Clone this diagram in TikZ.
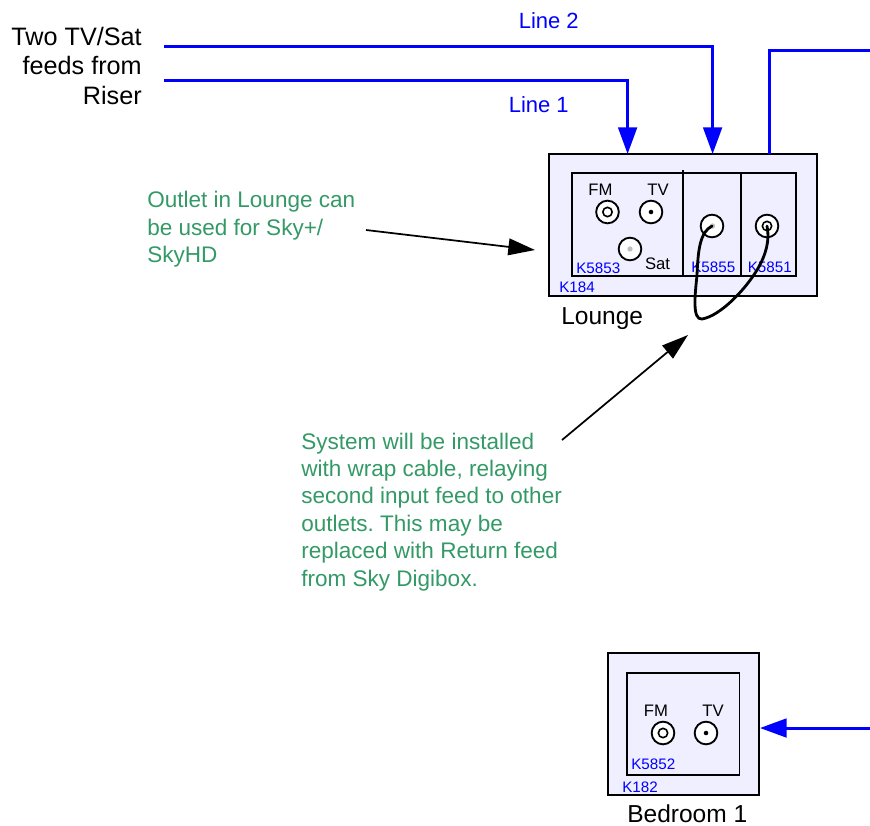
\documentclass[tikz,border=0pt]{standalone}
\usepackage{fontspec}
\setmainfont{Liberation Sans}
\usetikzlibrary{arrows.meta}
\definecolor{boxfill}{HTML}{EFEFFF}
\definecolor{notegreen}{HTML}{339966}
\definecolor{lineblue}{HTML}{0000FF}
\newcommand{\fsz}[1]{\fontsize{#1}{#1}\selectfont}
\tikzset{
  x=0.75pt,y=-0.75pt,
  plate/.style={draw=black,line width=1.3pt,fill=boxfill,inner sep=0pt,outer sep=0pt},
  insert/.style={draw=black,line width=1.3pt,inner sep=0pt,outer sep=0pt},
  socket/.style={circle,draw=black,line width=1.4pt,fill=white,minimum size=17pt,inner sep=0pt,outer sep=0pt},
  pin/.style={circle,draw=black,line width=1.2pt,fill=white,minimum size=7pt,inner sep=0pt},
  dot/.style={circle,fill=black,minimum size=3.4pt,inner sep=0pt},
  greydot/.style={circle,fill=black!25,minimum size=4pt,inner sep=0pt},
  feed/.style={draw=lineblue,line width=2.25pt},
  feedarrow/.style={feed,-{Triangle[length=20pt,width=14pt]}},
  callout/.style={draw=black,line width=1.3pt,-{Triangle[length=20pt,width=12.5pt]}},
  wrap/.style={draw=black,line width=2.1pt,line cap=round},
  big/.style={font=\fsz{18.4pt},text=black,inner sep=0pt},
  riser/.style={font=\fsz{18.9pt},text=black,inner sep=0pt,anchor=base east},
  small/.style={font=\fsz{12.5pt},text=black,inner sep=0pt},
  code/.style={font=\fsz{11.4pt},text=lineblue,inner sep=0pt,anchor=base west},
  note/.style={font=\fontsize{16.9pt}{20.55pt}\selectfont\frenchspacing,text=notegreen,inner sep=0pt,align=left,anchor=north west},
  linelabel/.style={font=\fsz{16.5pt},text=lineblue,inner sep=0pt,anchor=base west},
}
\begin{document}
\begin{tikzpicture}
\useasboundingbox (0,0) rectangle (870,825);
% Plates
\node[plate,minimum width=201pt,minimum height=106.5pt] (k184) at (683,225) {};
\node[insert,minimum width=168pt,minimum height=77.25pt] (k5853box) at (684,224.5) {};
\node[plate,minimum width=113.25pt,minimum height=106.5pt] (k182) at (683.2,724) {};
\node[insert,minimum width=84.4pt,minimum height=76.5pt] (k5852box) at (683.2,724) {};
% Dividers
\coordinate (d1t) at (683,170); \coordinate (d1b) at (683,276);
\coordinate (d2t) at (741,173); \coordinate (d2b) at (741,276);
\draw[insert] (d1t) -- (d1b);
\draw[insert] (d2t) -- (d2b);
% Sockets lounge
\node[socket] (fm1) at (607.5,212) {}; \node[pin] at (fm1) {};
\node[socket] (tv1) at (651,212) {}; \node[dot] at (tv1) {};
\node[socket] (sat1) at (630,249) {}; \node[greydot] at (sat1) {};
\node[socket] (in2) at (712,226) {}; \node[greydot] at (712.5,226) {};
\node[socket] (out1) at (767,226) {}; \node[pin] at (out1) {};
% Sockets bedroom
\node[socket] (fm2) at (663,733) {}; \node[pin] at (fm2) {};
\node[socket] (tv2) at (706,733) {}; \node[dot] at (tv2) {};
% Labels in plates
\node[small] (lfm) at (600.5,190) {FM};
\node[small] (ltv) at (658,190) {TV};
\node[small] (lsat) at (657.5,264) {Sat};
\node[small] (lfm2) at (656,711) {FM};
\node[small] (ltv2) at (713,711) {TV};
\node[code] (c1) at (576,273) {K5853};
\node[code] (c2) at (691,272) {K5855};
\node[code] (c3) at (747.5,272) {K5851};
\node[code] (c4) at (559,292) {K184};
\node[code] (c5) at (631,769) {K5852};
\node[code] (c6) at (622,792) {K182};
\node[big,anchor=base west] (lounge) at (561,324) {Lounge};
\node[big,anchor=base west] (bed) at (627,822) {Bedroom 1};
% Riser label
\node[riser] (r1) at (142,45) {Two TV/Sat};
\node[riser] (r2) at (142,74) {feeds from};
\node[riser] (r3) at (142,104) {Riser};
% Feeds
\coordinate (l2s) at (164,46); \coordinate (l2e) at (712.6,154);
\coordinate (l1s) at (164,80); \coordinate (l1e) at (627.6,154);
\coordinate (rets) at (769.6,154); \coordinate (rete) at (870,50);
\coordinate (beds) at (870,728); \coordinate (bede) at (760,728);
\draw[feedarrow] (l2s) -| (l2e);
\draw[feedarrow] (l1s) -| (l1e);
\draw[feed] (rets) |- (rete);
\draw[feedarrow] (beds) -- (bede);
\node[linelabel] (ll2) at (518.5,28) {Line 2};
\node[linelabel] (ll1) at (508.5,112.5) {Line 1};
% Notes
\node[note] (n1) at (147,191) {Outlet in Lounge can\\be used for Sky+/\\SkyHD};
\node[note] (n2) at (301,432.5) {System will be installed\\with wrap cable, relaying\\second input feed to other\\outlets. This may be\\replaced with Return feed\\from Sky Digibox.};
% Callouts
\coordinate (a1s) at (366,230); \coordinate (a1e) at (535,250);
\coordinate (a2s) at (562,440); \coordinate (a2e) at (688,335);
\draw[callout] (a1s) -- (a1e);
\draw[callout] (a2s) -- (a2e);
% Wrap cable
\draw[wrap] (in2.center) .. controls (700,232) and (698,250) .. (697,275)
  .. controls (695,295) and (692,320) .. (702,319)
  .. controls (720,316) and (745,290) .. (757,270)
  .. controls (766,255) and (770,240) .. (767,226);
\end{tikzpicture}
\end{document}
